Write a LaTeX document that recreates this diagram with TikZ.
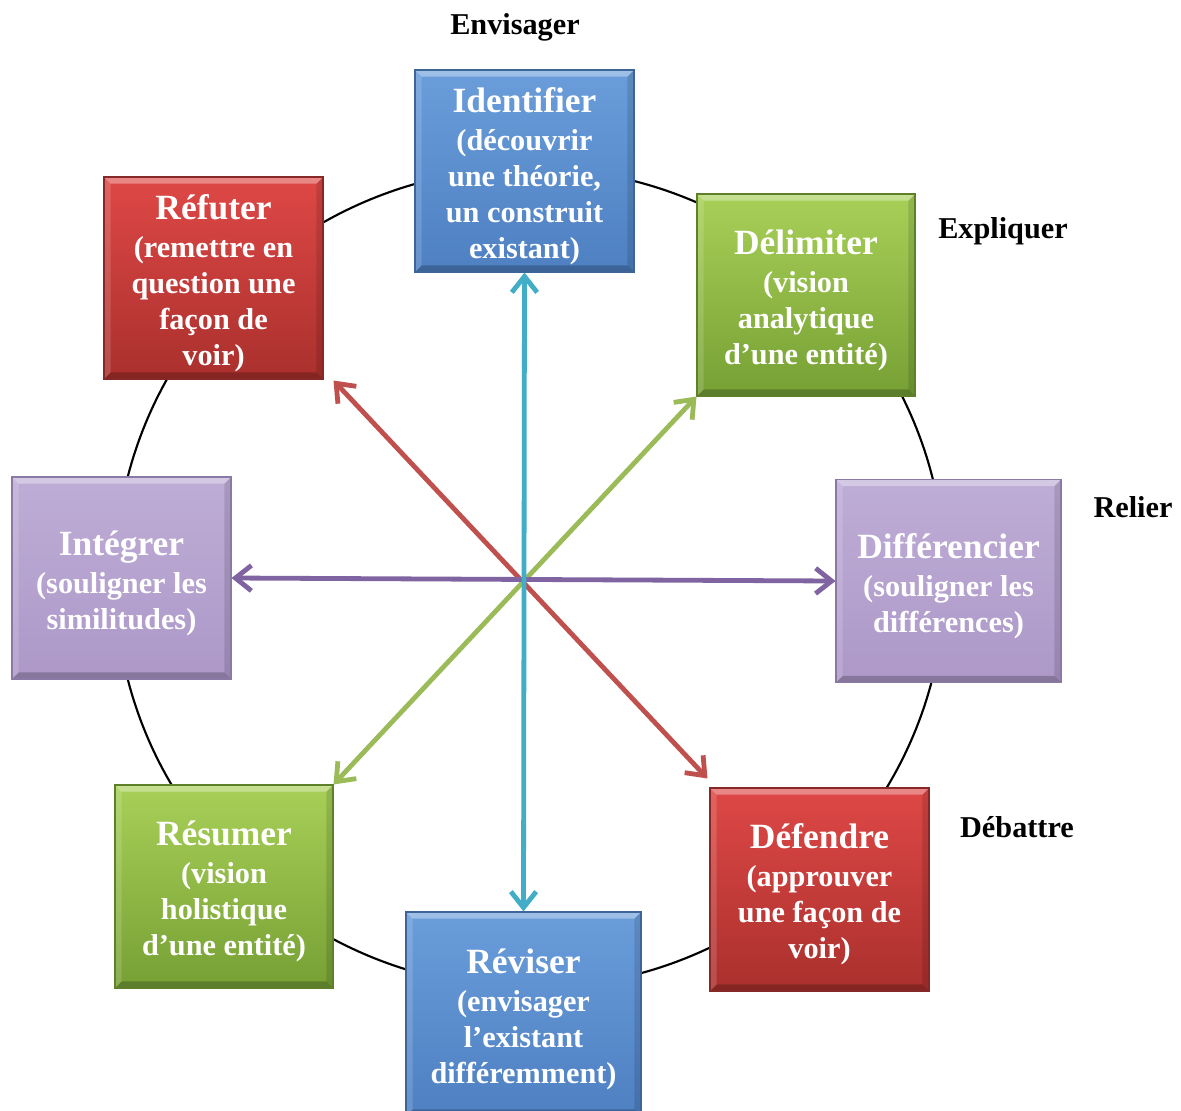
\documentclass[tikz,border=0pt]{standalone}
\usepackage{fontspec}
\setmainfont{Liberation Serif}
\usetikzlibrary{arrows.meta}
\definecolor{bluetop}{HTML}{6A9DDA}
\definecolor{bluebot}{HTML}{4E80C2}
\definecolor{blueedge}{HTML}{3D6598}
\definecolor{redtop}{HTML}{DE4846}
\definecolor{redbot}{HTML}{AA302D}
\definecolor{rededge}{HTML}{862826}
\definecolor{greentop}{HTML}{A8D058}
\definecolor{greenbot}{HTML}{76A034}
\definecolor{greenedge}{HTML}{5E8029}
\definecolor{purptop}{HTML}{BEADD6}
\definecolor{purpbot}{HTML}{AD98C8}
\definecolor{purpedge}{HTML}{8A78A6}
\definecolor{arrcyan}{HTML}{41ADC7}
\definecolor{arrred}{HTML}{C0504D}
\definecolor{arrgreen}{HTML}{9BBB59}
\definecolor{arrpurple}{HTML}{8064A2}
\tikzset{
  bevel/.style={path picture={
    \fill[white,opacity=0.35] (path picture bounding box.north west) -- (path picture bounding box.north east)
      -- ([shift={(-5pt,-5pt)}]path picture bounding box.north east) -- ([shift={(5pt,-5pt)}]path picture bounding box.north west) -- cycle;
    \fill[black,opacity=0.22] (path picture bounding box.south west) -- (path picture bounding box.south east)
      -- ([shift={(-5pt,5pt)}]path picture bounding box.south east) -- ([shift={(5pt,5pt)}]path picture bounding box.south west) -- cycle;
    \fill[white,opacity=0.15] (path picture bounding box.north west) -- ([shift={(5pt,-5pt)}]path picture bounding box.north west)
      -- ([shift={(5pt,5pt)}]path picture bounding box.south west) -- (path picture bounding box.south west) -- cycle;
    \fill[black,opacity=0.12] (path picture bounding box.north east) -- ([shift={(-5pt,-5pt)}]path picture bounding box.north east)
      -- ([shift={(-5pt,5pt)}]path picture bounding box.south east) -- (path picture bounding box.south east) -- cycle;
  }},
  box/.style={rectangle, inner sep=0pt,
    draw=#1edge, line width=0.8pt, top color=#1top, bottom color=#1bot, bevel},
  boxtext/.style={inner sep=0pt, align=center, text=white,
    font=\bfseries\fontsize{22.7}{27}\selectfont},
  lbl/.style={font=\bfseries\fontsize{22.7}{27}\selectfont, text=black},
  arr/.style={line width=3.6pt, {Straight Barb[length=12pt,width=19pt]}-{Straight Barb[length=12pt,width=19pt]}},
}
\newcommand{\ttl}[1]{{\fontsize{26.6}{27}\selectfont #1}\\[1.5pt]}
\begin{document}
\begin{tikzpicture}[x=0.75pt,y=-0.75pt]
\useasboundingbox (0,0) rectangle (1181,1110);
\fill[white] (0,0) rectangle (1181,1110);
% circle
\draw[line width=1.6pt] (530,578) ellipse [x radius=415, y radius=410];
% boxes
\node[box=blue, minimum width=164.25pt, minimum height=151.5pt] (ident) at (524.5,171) {};
\node[boxtext] (identt) at ([yshift=-3.75pt]ident.center)
  {\ttl{Identifier}(découvrir\\une théorie,\\un construit\\existant)};
\node[box=red, minimum width=164.25pt, minimum height=151.5pt] (refut) at (213.5,278) {};
\node[boxtext] (refutt) at ([yshift=-3.75pt]refut.center)
  {\ttl{Réfuter}(remettre en\\question une\\façon de\\voir)};
\node[box=green, minimum width=163.5pt, minimum height=151.5pt] (delim) at (806,295) {};
\node[boxtext] (delimt) at ([yshift=-3.75pt]delim.center)
  {\ttl{Délimiter}(vision\\analytique\\d’une entité)};
\node[box=purp, minimum width=164.25pt, minimum height=151.5pt] (integ) at (121.5,578) {};
\node[boxtext] (integt) at ([yshift=-3.75pt]integ.center)
  {\ttl{Intégrer}(souligner les\\similitudes)};
\node[box=purp, minimum width=168.75pt, minimum height=152.25pt] (diff) at (948.5,581) {};
\node[boxtext] (difft) at ([yshift=-3.75pt]diff.center)
  {\ttl{Différencier}(souligner les\\différences)};
\node[box=green, minimum width=163.5pt, minimum height=152.25pt] (resum) at (224,886.5) {};
\node[boxtext] (resumt) at ([yshift=-3.75pt]resum.center)
  {\ttl{Résumer}(vision\\holistique\\d’une entité)};
\node[box=red, minimum width=164.25pt, minimum height=152.25pt] (defen) at (819.5,889.5) {};
\node[boxtext] (defent) at ([yshift=-3.75pt]defen.center)
  {\ttl{Défendre}(approuver\\une façon de\\voir)};
\node[box=blue, minimum width=176.25pt, minimum height=153pt] (revis) at (523.5,1014) {};
\node[boxtext] (revist) at ([yshift=-3.75pt]revis.center)
  {\ttl{Réviser}(envisager\\l’existant\\différemment)};
% labels
\node[lbl] (l1) at (515,27) {Envisager};
\node[lbl] (l2) at (1003,231) {Expliquer};
\node[lbl] (l3) at (1133,507) {Relier};
\node[lbl] (l4) at (1017,827) {Débattre};
% arrows
\draw[arr, arrred] ([shift={(10,1)}]refut.south east) -- ([shift={(-2,-9)}]defen.north west);
\draw[arr, arrgreen] (delim.south west) -- (resum.north east);
\draw[arr, arrpurple] (integ.east) -- (diff.west);
\draw[arr, arrcyan] (ident.south) -- (revis.north);
\end{tikzpicture}
\end{document}
